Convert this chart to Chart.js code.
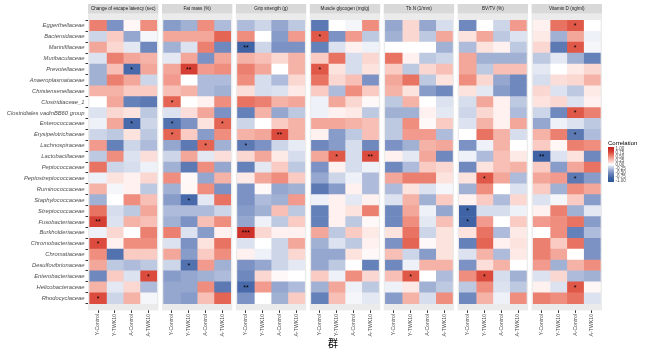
<!DOCTYPE html>
<html>
<head>
<meta charset="utf-8">
<script src="https://cdn.jsdelivr.net/npm/chart.js@4.4.1/dist/chart.umd.min.js"></script>
<style>
  html, body { margin: 0; background: #fff; }
</style>
</head>
<body>
<canvas id="heat" width="650" height="352"></canvas>
<script>
// rows (top to bottom), columns and facets
const families = ['Eggerthellaceae','Bacteroidaceae','Marinifilaceae','Muribaculaceae','Prevotellaceae',
  'Anaeroplasmataceae','Christensenellaceae','Clostridiaceae_1','Clostridiales vadinBB60 group','Enterococcaceae',
  'Erysipelotrichaceae','Lachnospiraceae','Lactobacillaceae','Peptococcaceae','Peptostreptococcaceae',
  'Ruminococcaceae','Staphylococcaceae','Streptococcaceae','Fusobacteriaceae','Burkholderiaceae',
  'Chromobacteriaceae','Chromatiaceae','Desulfovibrionaceae','Enterobacteriaceae','Helicobacteraceae','Rhodocyclaceae'];
const groups = ['Y-Control','Y-TWK10','A-Control','A-TWK10'];
const traits = ['Change of escape latency (sec)','Fat mass (%)','Grip strength (g)','Muscle glycogen (mg/g)',
  'Tb.N (1/mm)','BV/TV (%)','Vitamin D (ng/ml)'];

// correlation per family (row) x group (col)
const escapeLatency = [
  [0.5,-0.45,0.03,0.45],[-0.15,0.2,-0.35,-0.03],[0.35,0.15,-0.08,-0.5],[-0.1,0.5,0.35,0.3],
  [-0.3,0.25,-0.7,0.35],[-0.3,0.5,0.35,-0.15],[0.3,0.3,0.2,0.2],[0,0.35,-0.55,-0.6],
  [-0.1,0.15,0.1,-0.2],[-0.05,0.35,-0.7,-0.15],[-0.15,-0.2,0.1,-0.2],[0.4,-0.55,-0.15,-0.25],
  [-0.2,0.45,-0.1,0.12],[0.55,-0.15,-0.12,-0.05],[-0.05,0.1,0.05,0.15],[0.3,-0.03,0.05,-0.2],
  [-0.3,0,0.45,0.25],[0.55,-0.12,-0.2,0.35],[0.75,-0.1,0.3,0.25],[-0.05,0.15,0,0.5],
  [0.7,0.05,0.45,0.45],[0.45,-0.65,0.2,0.2],[0.35,-0.2,-0.25,-0.2],[-0.5,0.2,-0.1,0.7],
  [0.3,-0.08,0.15,-0.25],[0.7,-0.15,0.3,-0.03]];
const fatMass = [
  [-0.4,-0.3,0.45,-0.25],[0.35,0.35,0.35,0.6],[-0.3,-0.1,0.5,-0.5],[-0.08,0.35,-0.45,0.35],
  [0.35,0.75,0.4,0.45],[0.4,0,-0.25,-0.25],[0.25,0.3,-0.25,-0.3],[0.6,0,0.05,0.45],
  [-0.1,0.12,0.35,-0.45],[-0.65,-0.45,0.1,0.6],[0.6,0.2,-0.4,0.45],[-0.35,-0.6,0.6,-0.3],
  [-0.15,0.35,-0.08,0.12],[-0.3,-0.6,0.45,-0.35],[0.45,0.02,-0.35,0.3],[-0.3,0.03,0.45,-0.45],
  [-0.4,-0.7,-0.08,0.55],[-0.25,-0.25,-0.25,-0.15],[-0.3,-0.45,0.25,0.45],[0.5,-0.1,-0.4,0.05],
  [-0.1,-0.45,0.1,0.55],[0.35,-0.4,0.2,0.45],[-0.15,-0.65,0.4,-0.3],[-0.4,-0.35,-0.3,-0.25],
  [-0.35,-0.35,0.45,-0.6],[-0.35,-0.4,0.25,0.6]];
const gripStrength = [
  [-0.25,-0.15,-0.35,-0.2],[0.45,0,-0.4,0.4],[-0.75,-0.15,-0.45,-0.45],[0.3,0.25,0.15,0.3],
  [0.5,0.35,0,0.3],[0.45,-0.12,-0.25,0.15],[0.12,-0.12,-0.1,0.08],[0.55,0.5,0.3,0.35],
  [-0.55,0.3,-0.35,-0.2],[-0.15,0,0.2,0.3],[0.3,0.35,0.7,0.3],[-0.6,-0.45,-0.15,-0.07],
  [0.15,0.35,0.08,-0.12],[-0.55,-0.08,0.2,-0.2],[0.08,0.35,0.45,0.2],[-0.45,0.02,-0.35,-0.3],
  [-0.45,-0.25,-0.3,0.4],[-0.4,-0.3,0.25,-0.2],[-0.35,-0.05,-0.2,0.2],[0.85,0.15,0.05,0.05],
  [-0.1,0,-0.15,0.35],[0.05,-0.05,-0.15,0.15],[-0.45,-0.35,-0.15,-0.08],[-0.5,0.15,0.02,0],
  [-0.7,0.4,-0.35,-0.25],[-0.45,0,-0.3,0.2]];
const muscleGlycogen = [
  [-0.6,0,-0.03,0.45],[0.65,-0.45,0.4,-0.2],[-0.55,-0.1,0.05,-0.05],[0.2,0.55,-0.12,0.15],
  [0.65,0.1,-0.12,0.1],[0.55,0.15,0.25,-0.45],[0.2,-0.25,0.45,0.2],[-0.05,0.35,0.15,0.02],
  [-0.05,0.05,0.08,-0.2],[0.35,0.35,0.3,0.25],[0.05,-0.4,-0.2,0.25],[-0.5,-0.4,-0.12,-0.5],
  [0.35,0.65,-0.12,0.7],[-0.45,0.05,-0.12,-0.05],[-0.35,-0.15,-0.05,-0.25],[-0.6,-0.4,0.05,-0.25],
  [-0.05,0.05,-0.08,0.05],[-0.55,0.05,0.1,0.5],[-0.55,0.05,-0.2,0.02],[0.35,-0.2,0.2,0.08],
  [-0.3,-0.1,-0.2,0.05],[-0.35,-0.35,0.1,0.02],[-0.35,-0.2,0,-0.55],[0.2,-0.05,0.45,0.15],
  [-0.3,0.35,-0.05,-0.2],[-0.55,0.25,-0.03,-0.08]];
const tbN = [
  [-0.35,0.15,-0.35,-0.12],[-0.3,0.15,-0.2,0.35],[0,0,0,-0.3],[0.55,0.05,-0.2,-0.15],
  [0.2,-0.2,0.15,0.25],[0.35,0.55,-0.2,0.1],[0.3,0.1,-0.4,-0.5],[-0.2,0.3,0,-0.1],
  [-0.3,-0.3,0.05,-0.08],[-0.2,0.45,0.02,0.2],[-0.2,0.4,0.4,-0.25],[-0.45,-0.3,0.3,0.35],
  [0.05,-0.08,0.35,-0.5],[-0.5,-0.25,0.2,0.15],[0.35,0.5,0.5,0.1],[-0.25,0.1,-0.1,-0.03],
  [-0.1,0.3,-0.3,0.2],[-0.5,0.35,-0.05,-0.35],[-0.5,0.45,-0.08,0.25],[0.1,0.55,-0.15,0.1],
  [-0.45,0.6,0.02,0.1],[0.25,-0.15,-0.4,0.1],[-0.5,-0.05,0.3,0.3],[0.25,0.65,0,-0.25],
  [-0.05,0.08,-0.3,-0.2],[-0.4,0.3,-0.12,0.45]];
const bvTv = [
  [-0.5,0,-0.15,0.4],[0.1,0.35,-0.2,-0.1],[-0.25,0.1,0.05,-0.2],[0.35,-0.3,-0.3,-0.3],
  [0.35,-0.2,0.25,0.25],[0.45,0.15,-0.35,-0.5],[0.1,-0.08,-0.4,-0.5],[-0.12,0.35,0.05,-0.2],
  [-0.15,0.15,0.05,-0.25],[-0.1,0.3,0.05,0.35],[0,0.55,0.3,-0.12],[-0.45,-0.05,0.3,0],
  [-0.05,-0.25,0.25,0.08],[-0.5,0.1,0.25,0.3],[0.1,0.65,0.35,-0.25],[-0.3,0.45,0,-0.1],
  [0.05,0.2,-0.25,0.15],[-0.75,-0.12,-0.12,-0.05],[-0.75,0.4,0,0.2],[0.1,0.55,-0.25,0.08],
  [-0.55,0.6,0.05,0.1],[-0.1,0.3,-0.25,0.08],[-0.45,0.12,0.3,0],[0.45,0.7,-0.12,-0.3],
  [-0.2,0.45,-0.1,-0.2],[-0.5,0.3,-0.05,0.45]];
const vitaminD = [
  [0.05,0.55,0.65,0],[0.08,-0.3,0.35,-0.05],[0.15,-0.6,0.65,-0.03],[-0.2,-0.08,-0.3,-0.55],
  [-0.08,0,0.08,0.15],[-0.12,0.12,0.15,0.3],[0.15,-0.1,-0.2,0.08],[0.1,0.15,-0.1,0.05],
  [-0.15,-0.5,0.65,0.5],[-0.35,-0.05,-0.1,-0.2],[0.3,0.5,-0.6,-0.25],[0.2,0.03,0.5,0.45],
  [-0.75,-0.1,0.1,-0.5],[0.2,-0.4,0.35,0.55],[0.35,0.4,-0.6,-0.4],[0.2,-0.3,0.45,0.35],
  [-0.1,-0.03,0.2,-0.4],[0.05,0.5,-0.3,-0.08],[0.4,0.45,0.55,-0.4],[0,0.45,-0.55,-0.25],
  [0.5,0.2,0.55,-0.45],[0.5,0.35,0,-0.45],[0.4,-0.3,0.3,0.45],[-0.1,0.15,-0.25,-0.3],
  [0.05,-0.1,0.65,0.03],[0.5,0.45,0.55,-0.1]];

// significance marks: [row, col, label]
const escapeStars = [[4,2,'*'],[9,2,'*'],[18,0,'**'],[20,0,'*'],[23,3,'*'],[25,0,'*']];
const fatStars = [[4,1,'**'],[7,0,'*'],[9,0,'*'],[9,3,'*'],[10,0,'*'],[11,2,'*'],[16,1,'*'],[22,1,'*']];
const gripStars = [[2,0,'**'],[10,2,'**'],[11,0,'*'],[19,0,'***'],[24,0,'**']];
const glycogenStars = [[1,0,'*'],[4,0,'*'],[12,1,'*'],[12,3,'**']];
const tbnStars = [[23,1,'*']];
const bvtvStars = [[14,1,'*'],[17,0,'*'],[18,0,'*'],[23,1,'*']];
const vitdStars = [[0,2,'*'],[2,2,'*'],[8,2,'*'],[10,2,'*'],[12,0,'**'],[14,2,'*'],[24,2,'*']];

const legendTicks = ['1.00','0.75','0.50','0.25','0.00','-0.25','-0.50','-0.75','-1.00'];

const panels = [
  { title: traits[0], values: escapeLatency, stars: escapeStars },
  { title: traits[1], values: fatMass, stars: fatStars },
  { title: traits[2], values: gripStrength, stars: gripStars },
  { title: traits[3], values: muscleGlycogen, stars: glycogenStars },
  { title: traits[4], values: tbN, stars: tbnStars },
  { title: traits[5], values: bvTv, stars: bvtvStars },
  { title: traits[6], values: vitaminD, stars: vitdStars }
];

// facet geometry in x units (one cell = 1)
const PANEL_W = 4.2, GAP = 0.21;
const panelStart = p => p * (PANEL_W + GAP);
const cellStart = (p, c) => panelStart(p) + 0.1 + c;
const X_MAX = panels.length * PANEL_W + (panels.length - 1) * GAP;

const colorStops = [[-1,'#2D5596'],[-0.75,'#3F63A5'],[-0.5,'#6F88BE'],[-0.25,'#AEBBDA'],[-0.1,'#DCE2EF'],
  [0,'#FFFFFF'],[0.1,'#FCE3DE'],[0.25,'#F7BFB5'],[0.45,'#EF8E7F'],[0.6,'#E46553'],[0.75,'#D63F33'],[1,'#C21E1E']];
function hex(h) { return [1,3,5].map(i => parseInt(h.slice(i, i + 2), 16)); }
function corrColor(v) {
  for (let i = 1; i < colorStops.length; i++) {
    const [v1, c1] = colorStops[i];
    if (v <= v1) {
      const [v0, c0] = colorStops[i - 1];
      const t = (v - v0) / (v1 - v0), a = hex(c0), b = hex(c1);
      return `rgb(${a.map((x, k) => Math.round(x + (b[k] - x) * t)).join(',')})`;
    }
  }
  return colorStops[colorStops.length - 1][1];
}

const datasets = [];
panels.forEach((panel, p) => {
  groups.forEach((g, c) => {
    const x0 = cellStart(p, c);
    datasets.push({
      label: panel.title + ' ' + g,
      data: families.map((f, r) => ({ y: r, x: [x0, x0 + 1], v: panel.values[r][c] })),
      backgroundColor: ctx => corrColor(ctx.raw ? ctx.raw.v : 0),
      borderWidth: 0,
      grouped: false,
      barPercentage: 1,
      categoryPercentage: 1
    });
  });
});

const FONT = '"Liberation Sans", Arial, sans-serif';

const facetPlugin = {
  id: 'facets',
  beforeDatasetsDraw(chart) {
    const { ctx, chartArea: a, scales: { x } } = chart;
    ctx.save();
    ctx.fillStyle = '#EBEBEB';
    panels.forEach((pn, p) => {
      const l = x.getPixelForValue(panelStart(p)), r = x.getPixelForValue(panelStart(p) + PANEL_W);
      ctx.fillRect(l, a.top, r - l, a.bottom - a.top);
    });
    ctx.restore();
  },
  afterDatasetsDraw(chart) {
    const { ctx, scales: { x, y } } = chart;
    ctx.save();
    ctx.fillStyle = '#000';
    ctx.font = '7px ' + FONT;
    ctx.textAlign = 'center';
    ctx.textBaseline = 'middle';
    panels.forEach((pn, p) => {
      pn.stars.forEach(([r, c, s]) => {
        ctx.fillText(s, x.getPixelForValue(cellStart(p, c) + 0.5), y.getPixelForValue(r) + 0.5);
      });
    });
    ctx.restore();
  },
  afterDraw(chart) {
    const { ctx, chartArea: a, scales: { x } } = chart;
    ctx.save();
    // strips
    panels.forEach((pn, p) => {
      const l = x.getPixelForValue(panelStart(p)), r = x.getPixelForValue(panelStart(p) + PANEL_W);
      ctx.fillStyle = '#D9D9D9';
      ctx.fillRect(l, a.top - 9.6, r - l, 9.6);
      ctx.fillStyle = '#1A1A1A';
      ctx.font = '4.6px ' + FONT;
      ctx.textAlign = 'center';
      ctx.textBaseline = 'middle';
      ctx.fillText(pn.title, (l + r) / 2, a.top - 4.8);
    });
    // axis title
    ctx.fillStyle = '#000';
    ctx.font = '10px "Noto Sans CJK SC", sans-serif';
    ctx.textAlign = 'center';
    ctx.textBaseline = 'middle';
    ctx.fillText('群', 333, 343);
    // colour bar legend
    const bx = 608, by = 147, bw = 6, bh = 35;
    ctx.font = '6px ' + FONT;
    ctx.textAlign = 'left';
    ctx.textBaseline = 'alphabetic';
    ctx.fillText('Correlation', bx, by - 2);
    const grad = ctx.createLinearGradient(0, by, 0, by + bh);
    colorStops.forEach(([v, col]) => grad.addColorStop((1 - v) / 2, col));
    ctx.fillStyle = grad;
    ctx.fillRect(bx, by, bw, bh);
    ctx.fillStyle = '#4D4D4D';
    ctx.font = '4.5px ' + FONT;
    ctx.textBaseline = 'middle';
    legendTicks.forEach((t, i) => {
      ctx.fillText(t, bx + bw + 1.5, by + 1.5 + i * (bh - 3) / (legendTicks.length - 1));
    });
    ctx.restore();
  }
};

new Chart(document.getElementById('heat'), {
  type: 'bar',
  data: { datasets },
  options: {
    indexAxis: 'y',
    responsive: false,
    animation: false,
    layout: { padding: { top: 13.6, right: 48, left: 0, bottom: 0 } },
    plugins: { legend: { display: false }, tooltip: { enabled: false } },
    scales: {
      x: {
        type: 'linear', min: 0, max: X_MAX,
        afterBuildTicks: s => {
          s.ticks = [];
          panels.forEach((pn, p) => groups.forEach((g, c) => s.ticks.push({ value: cellStart(p, c) + 0.5 })));
        },
        afterFit: s => { s.height = 41.6; },
        ticks: {
          autoSkip: false, minRotation: 90, maxRotation: 90, padding: 1,
          color: '#4D4D4D', font: { size: 5.2, family: FONT },
          callback: (v, i) => groups[i % groups.length]
        },
        grid: { drawOnChartArea: false, drawTicks: true, tickLength: 2.5, color: '#333333' },
        border: { display: false }
      },
      y: {
        type: 'linear', reverse: true, min: -0.6, max: families.length - 0.4,
        afterBuildTicks: s => { s.ticks = families.map((f, i) => ({ value: i })); },
        afterFit: s => { s.width = 88; },
        ticks: {
          autoSkip: false, padding: 1,
          color: '#4D4D4D', font: { size: 5.8, style: 'italic', family: FONT },
          callback: v => families[v]
        },
        grid: { drawOnChartArea: false, drawTicks: true, tickLength: 2.5, color: '#333333' },
        border: { display: false }
      }
    }
  },
  plugins: [facetPlugin]
});
</script>
</body>
</html>
